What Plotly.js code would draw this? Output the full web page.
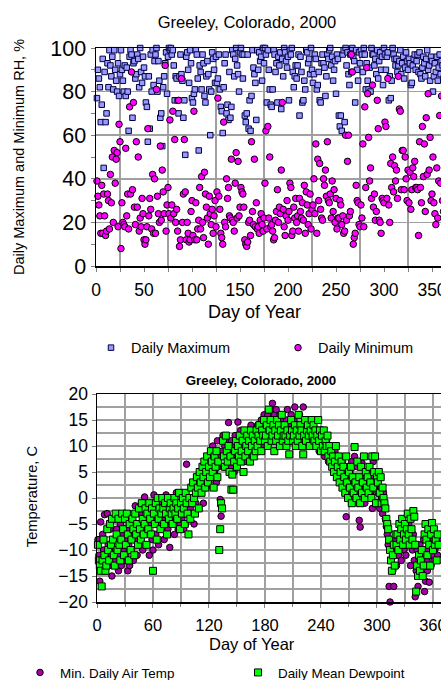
<!DOCTYPE html>
<html>
<head>
<meta charset="utf-8">
<script src="https://cdn.plot.ly/plotly-3.0.1.min.js"></script>
<style>
html,body{margin:0;padding:0;background:#fff;overflow:hidden;width:441px;height:680px;}
#top{position:absolute;left:0;top:0;width:480px;height:360px;}
#bot{position:absolute;left:0;top:360px;width:480px;height:320px;}
</style>
</head>
<body>
<div id="top"></div>
<div id="bot"></div>
<script>
// ---- Relative humidity (%), one value per day of year ----
const rhMax = [
77,90,86,82,66,74,95,45,89,66,70,93,82,99,92,87,96,81,99,90,85,80,93,78,88,
99,90,85,80,92,78,91,80,62,96,99,97,68,93,94,86,88,97,95,82,100,89,84,96,91,
87,75,73,57,87,63,97,80,99,83,94,97,100,80,94,85,68,70,55,82,87,93,98,79,96,
100,99,100,97,99,92,76,87,86,76,70,87,97,88,85,68,76,51,96,98,90,84,99,93,77,
75,79,81,99,97,86,53,92,89,81,97,93,78,75,87,94,88,81,60,80,98,95,90,84,96,
84,86,97,81,73,71,61,82,93,97,70,74,67,89,68,73,99,97,87,95,100,92,88,80,98,
100,97,86,97,69,66,70,97,63,76,62,78,99,91,88,84,67,99,90,98,94,96,85,100,93,
100,97,75,99,90,81,74,73,81,99,97,89,93,75,96,92,98,72,95,87,100,98,94,91,96,
76,99,97,100,89,82,87,92,86,92,97,69,96,89,75,76,85,81,99,98,93,95,88,100,90,
84,88,97,95,81,83,89,76,75,93,97,93,91,78,87,97,95,99,100,92,96,85,90,94,79,
97,95,69,64,69,62,97,99,66,100,92,98,88,83,97,89,100,96,94,75,99,90,85,98,93,
99,97,89,100,97,81,93,85,81,91,80,100,97,97,92,95,88,99,86,94,98,90,96,83,100,
97,90,96,98,76,87,77,85,100,97,95,92,95,89,92,94,99,88,93,96,86,91,98,94,90,
95,93,83,84,92,95,97,90,94,97,89,98,88,86,91,96,93,87,95,99,90,92,85,96,94,
80,87,93,89,96,85,91,97,88,94,92,86,95,90,98,93
];
const rhMin = [
39,32,28,23,15,37,15,33,23,14,16,33,30,17,42,29,50,20,53,38,49,52,18,65,57,
8,29,20,19,18,54,23,33,17,73,33,89,35,75,27,19,57,27,50,16,22,18,31,24,12,
10,12,18,63,23,31,26,17,42,15,40,15,81,32,24,20,55,21,44,34,24,92,16,28,36,
24,67,22,28,71,24,58,20,26,16,76,9,12,86,20,33,58,34,12,20,15,11,12,25,30,
14,71,12,29,12,17,21,36,17,41,20,13,43,33,27,22,10,32,24,19,26,15,23,30,18,
34,77,32,26,15,13,10,66,20,18,40,31,36,23,22,49,21,20,16,38,52,22,48,23,27,
36,34,33,27,12,10,9,11,20,21,14,57,25,19,49,18,29,17,18,15,21,24,19,16,22,
38,62,17,64,22,50,18,19,16,12,13,21,25,35,20,27,24,44,75,26,18,14,23,30,21,
25,38,36,14,16,27,22,31,20,23,16,31,25,22,29,21,37,15,34,28,19,24,33,17,26,
28,40,24,56,15,49,30,47,26,22,21,40,37,44,32,57,30,29,33,22,39,25,35,20,31,
17,22,22,30,28,19,23,15,16,60,21,48,60,23,25,97,89,10,13,15,37,30,29,19,18,
28,22,56,18,73,36,91,79,59,39,45,31,83,27,33,21,25,76,63,21,20,15,31,30,29,
66,64,31,86,28,20,47,36,50,34,46,39,44,31,87,72,71,35,53,53,35,50,40,30,44,
29,43,26,35,45,41,48,36,36,35,14,57,36,29,64,41,56,25,68,42,79,44,59,30,33,
50,29,24,19,45,22,39,69,38,78,30,25,33,28,41,36
];

// ---- Temperature (C), one value per day of year ----
const minAirTemp = [
-8,-11,-16,-4.6,-13,-7,-10,-3.2,-14,-12,
-3,-9,-13,-6,-11,-15,-8,-4,-12,-10,
-6,-11,-14,-9,-5,-13,-7,-10,-12,-8,
-11,-6,-14,-9,-13,-4,-10,-7,-12,-5,
-1.5,-8,-11,-5,-9,-3,-7,-1,-10,-6,
0.2,-4,-9,-6,-2,-11,-5,-3,-8,-10,
0.6,-4,-7,-2,-5,-9,-3,-1,-6,-4,
-2,-8,-5,0.6,-3,-6,-1,-9.5,-4,-2,
-5,-2,-7,-3,1,-4,-6,-2,-5,-3,
-4,-1,-6,-2,-5,6.5,-3,-7,0,-2,
-3,2,0,-5,3,-1,2.2,1,-2,4,
2,5,3,-1,6,4,2,7,5,3,
6,8,4,10,7,5,9,3,11,6,
8,-0.3,-3.5,9,12,6,10,8,11,7,
14.5,9,6,11,8,10,5,12,9,7,
14.6,11,9,13,8,10,12,7,11,9,
12,10,13,8,14,11,9,12,10,13,
11,14,12,9,13,15,10,12,16,11,
14,12,16,13,17,15,12,18.2,14,16,
13,17,15,12,14,16,13,11,15,12,
14,12,15,17,13,11,14,16,12,13,
15,17.5,13,11,14,12,16,13,11,14,
17.5,12,14,13,11,15,12,14,10,13,
12,14,11,13,10,12,11,9,13,10,
11,9,12,8,10,11,9,7,10,8,
9,7,8,6,9,5,7,4,8,6,
6,3,7,5,2,4,-3.6,6,1,3,
5,2,7,0,4,8,1,3,6,-1,
-4.3,-5.6,3,6.7,1,4,-1,2,5,0,
3,6,1,4,-2,7,2,5,-1,3,
1,4,-2,2,0,-3,1,-1,-4,-5.5,
-7,-9,-17,-20,-12,-10,-14,-17,-8,-11,
-13,-9,-11,-7,-10,-12,-8,-6,-10,-9,
-11,-7,-9,-5,-8,-13,-6,-10,-7,-12,
-19,-14,-10,-17,-12,-9,-15,-11,-13,-8,
-18,-16,-12,-14,-10,-16.2,-9,-13,-11,-8,
-12,-10,-7,-9,-11,-8
];
const meanDewpoint = [
-9,-12,-13,-14,-17,-12,-8,-11,-14,-13,
-6,-10,-12,-5,-9,-4,-8,-11,-13,-3,
-7,-10,-4,-9,-12,-8,-3,-6,-11,-4,
-9,-3,-7,-12,-5,-10,-8,-4,-6,-11,
-3,-7,-5,-9,-2,-6,-8,-1,-4,-7,
-5,-2,-9,-3,-6,-1,-4,-7,-2,-14,
-3,-5,-1,-8,0,-4,-2,-6,-3,0,
-2,-5,-1,-3,-7,0,-4,-2,-1,-3,
-5,-2,0,-3,-1,-4,-2,1,-6,-1,
-3,0,-2,-5,1,-1,-3,-7,0,-4,
2,-1,3,0,-3,1,4,2,-2,5,
3,1,6,4,7,2,5,8,3,6,
4,9,7,5,2,8,6,9,4,7,
-10,-6,-1,-2,11,8,6,12,9,7,
10,5,8,1.6,4.5,1.6,7,9,11,6,
10,8,12,7,9,11,5,13,8,10,
12,9,11,7,13,10,12,8,11,9,
13,10,12,14,11,9,13,12,15,11,
12,14,10,17,13,15,11,12,14,9,
13,11,15,12,14,10,13,16,11,12,
14,12,10,13,11,8.4,12,15,13,11,
12,14,10,13,11,16,12,14,13,10,
8.4,12,15,11,13,14,12,10,13,15,
12,14,11,13,10,12,15,11,13,9,
12,10,13,9,11,10,12,8,10,7,
9,6,8,5,7,10,4,6,8,3,
5,7,2,6,4,1,8,3,0,5,
2,6,-1,4,1,9.8,3,0,7,2,
4,-1,6,1,3,8,0,5,2,4,
1,6,3,0,8,2,5,8,-1,4,
3,5,1,4,-1,2,0,-1,-2,-4,
-5,-6,-8,-10,-12,-14,-11,-9,-13,-7,
-9,-7,-10,-5,-8,-6,-4,-9,-7,-5,
-8,-6,-3,-7,-9,-4,-6,-8,-2.5,-3.6,
-9,-18,-13,-15,-11,-14,-12,-10,-15,-13,
-7,-5,-8,-11,-6,-9,-13,-7,-4.8,-10,
-6,-9,-8,-12,-7,-9
];

const dayRH = rhMax.map((v, i) => i + 1);
const dayT = minAirTemp.map((v, i) => i + 1);

const FONT = 'Liberation Sans, Arial, Helvetica, sans-serif';
const GRID = '#a0a0a0';

function legendAt(xPx, yPx, W, H, size) {
  return {orientation: 'h', xref: 'container', yref: 'container', x: xPx / W, xanchor: 'left',
          y: 1 - yPx / H, yanchor: 'middle', font: {size: size, family: FONT, color: '#000'},
          bgcolor: 'rgba(0,0,0,0)', itemclick: false};
}

// ---------- Top chart ----------
const topTraces = [
  {x: dayRH, y: rhMax, type: 'scatter', mode: 'markers', name: 'Daily Maximum', cliponaxis: false, legend: 'legend',
   marker: {symbol: 'square', size: 5.5, color: '#9999ff', line: {color: '#000040', width: 1}}},
  {x: dayRH, y: rhMin, type: 'scatter', mode: 'markers', name: 'Daily Minimum', cliponaxis: false, legend: 'legend2',
   marker: {symbol: 'circle', size: 6.5, color: '#ff00ff', line: {color: '#000000', width: 1}}}
];
const topLayout = {
  width: 480, height: 360,
  margin: {l: 96, r: 0, t: 48, b: 94, pad: 0},
  paper_bgcolor: '#fff', plot_bgcolor: '#fff',
  font: {family: FONT, color: '#000'},
  title: {text: 'Greeley, Colorado, 2000', font: {size: 16.5, family: FONT, color: '#000'},
          xref: 'container', x: 247 / 480, xanchor: 'center', yref: 'container', y: 1 - 22.7 / 360, yanchor: 'middle'},
  xaxis: {range: [0, 400], tick0: 0, dtick: 50, showgrid: false, zeroline: false,
          ticks: 'outside', ticklen: 4, tickwidth: 1, tickcolor: '#808080',
          showline: true, linecolor: '#000', linewidth: 1.5, mirror: true,
          tickfont: {size: 17.5, family: FONT, color: '#000'}, ticklabelstandoff: 3,
          minor: {tick0: 25, dtick: 50, showgrid: true, gridcolor: GRID, gridwidth: 1.5,
                  ticks: 'outside', ticklen: 4, tickcolor: '#808080'}},
  yaxis: {range: [0, 100], dtick: 20, showgrid: true, gridcolor: GRID, gridwidth: 1.5, zeroline: false,
          ticks: 'outside', ticklen: 4, tickcolor: '#808080',
          showline: true, linecolor: '#000', linewidth: 1.5,
          tickfont: {size: 21.5, family: FONT, color: '#000'},
          minor: {dtick: 10, ticks: 'outside', ticklen: 4, tickcolor: '#808080', showgrid: false}},
  showlegend: true,
  legend: legendAt(91, 347.7, 480, 360, 14.5),
  legend2: legendAt(278, 347.7, 480, 360, 14.5),
  annotations: [
    {text: 'Daily Maximum and Minimum RH, %', textangle: -90, showarrow: false,
     xref: 'paper', x: (19 - 96) / 384, xanchor: 'center', yref: 'paper', y: 0.5, yanchor: 'middle',
     font: {size: 14.5, family: FONT, color: '#000'}},
    {text: 'Day of Year', showarrow: false,
     xref: 'paper', x: (254 - 96) / 384, xanchor: 'center', yref: 'paper', y: (266 - 311.7) / 218, yanchor: 'middle',
     font: {size: 18, family: FONT, color: '#000'}}
  ]
};

// ---------- Bottom chart ----------
const botTraces = [
  {x: dayT, y: minAirTemp, type: 'scatter', mode: 'markers', name: 'Min. Daily Air Temp', cliponaxis: false, legend: 'legend',
   marker: {symbol: 'circle', size: 6.5, color: '#a800a8', line: {color: '#000', width: 1}}},
  {x: dayT, y: meanDewpoint, type: 'scatter', mode: 'markers', name: 'Daily Mean Dewpoint', cliponaxis: false, legend: 'legend2',
   marker: {symbol: 'square', size: 7, color: '#00ff00', line: {color: '#000', width: 1}}}
];
const botLayout = {
  width: 480, height: 320,
  margin: {l: 97.3, r: 0, t: 34.3, b: 78.3, pad: 0},
  paper_bgcolor: '#fff', plot_bgcolor: '#fff',
  font: {family: FONT, color: '#000'},
  title: {text: '<b>Greeley, Colorado, 2000</b>', font: {size: 13.3, family: FONT, color: '#000'},
          xref: 'container', x: 261 / 480, xanchor: 'center', yref: 'container', y: 1 - 20 / 320, yanchor: 'middle'},
  xaxis: {range: [0, 410.4], tick0: 0, dtick: 60, showgrid: true, gridcolor: GRID, gridwidth: 1.5, zeroline: false,
          ticks: 'outside', ticklen: 4, tickcolor: '#808080',
          showline: true, linecolor: '#000', linewidth: 1.5, mirror: true,
          tickfont: {size: 16.5, family: FONT, color: '#000'}, ticklabelstandoff: 4,
          minor: {dtick: 30, showgrid: true, gridcolor: GRID, gridwidth: 1.5, ticks: 'outside', ticklen: 3, tickcolor: '#808080'}},
  yaxis: {range: [-20, 20], dtick: 5, showgrid: true, gridcolor: GRID, gridwidth: 1.5, zeroline: false,
          ticks: 'outside', ticklen: 4, tickcolor: '#808080',
          showline: true, linecolor: '#000', linewidth: 1.5,
          tickfont: {size: 17.5, family: FONT, color: '#000'},
          minor: {dtick: 2.5, showgrid: true, gridcolor: GRID, gridwidth: 1.5, ticks: ''}},
  showlegend: true,
  legend: legendAt(20, 312.7, 480, 320, 13.4),
  legend2: legendAt(238, 312.7, 480, 320, 13.4),
  annotations: [
    {text: 'Temperature, C', textangle: -90, showarrow: false,
     xref: 'paper', x: (33 - 97.3) / 382.7, xanchor: 'center', yref: 'paper', y: (241.7 - 136.5) / 207.4, yanchor: 'middle',
     font: {size: 14.7, family: FONT, color: '#000'}},
    {text: 'Day of Year', showarrow: false,
     xref: 'paper', x: (251.7 - 97.3) / 382.7, xanchor: 'center', yref: 'paper', y: (241.7 - 284) / 207.4, yanchor: 'middle',
     font: {size: 16.5, family: FONT, color: '#000'}}
  ]
};

const cfg = {staticPlot: true, displayModeBar: false};
Plotly.newPlot('top', topTraces, topLayout, cfg);
Plotly.newPlot('bot', botTraces, botLayout, cfg);
</script>
</body>
</html>
